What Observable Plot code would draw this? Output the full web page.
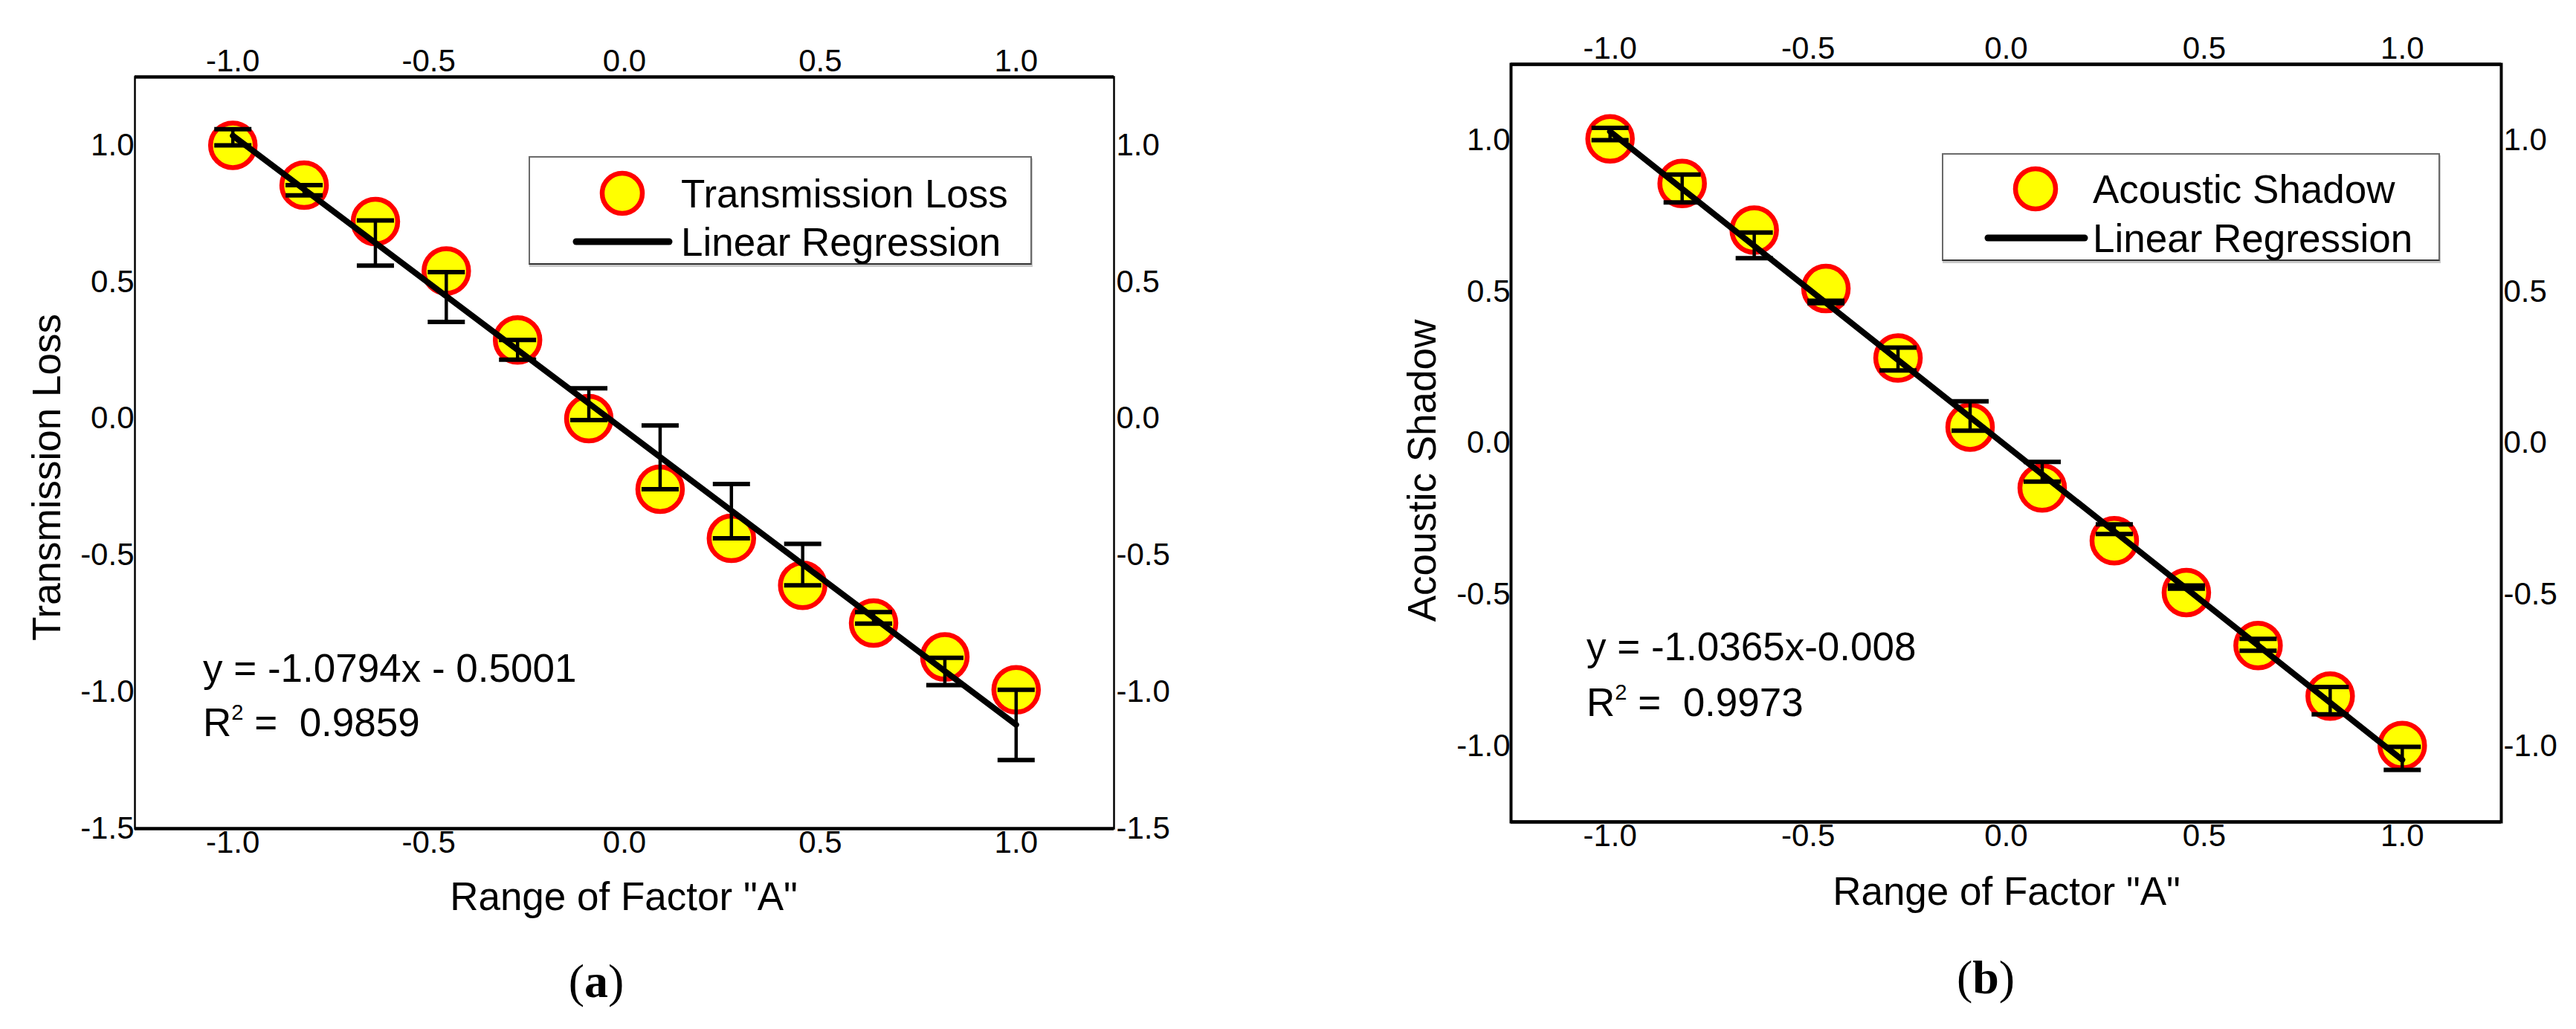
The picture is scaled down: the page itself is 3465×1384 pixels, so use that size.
<!DOCTYPE html>
<html>
<head>
<meta charset="utf-8">
<script src="https://cdn.jsdelivr.net/npm/d3@7"></script>
<script src="https://cdn.jsdelivr.net/npm/@observablehq/plot@0.6"></script>
<style>
  html, body { margin: 0; padding: 0; background: #fff; }
  #page { position: relative; width: 3465px; height: 1384px; overflow: hidden; background: #fff;
          font-family: "Liberation Sans", Arial, sans-serif; color: #000; }
  .plot { position: absolute; top: 0; }
  .lbl { position: absolute; line-height: 1; white-space: pre; font-size: 53px; }
  .legend { position: absolute; border: 2px solid #6a6a6a; border-bottom-color: #333;
            box-shadow: 1px 3px 0 #c8c8c8; background: #fff; box-sizing: border-box; }
  .cap { position: absolute; line-height: 1; font-family: "Liberation Serif", "Times New Roman", serif;
         font-size: 64px; transform: translate(-50%, -50%); white-space: pre; }
  sup { font-size: 0.55em; vertical-align: 0; position: relative; top: -0.75em; }
</style>
</head>
<body>
<div id="page"></div>
<script>
// ---------- data ----------
const xValues = [-1.0, -0.818, -0.636, -0.455, -0.273, -0.091, 0.091, 0.273, 0.455, 0.636, 0.818, 1.0];
const xTicks = [-1.0, -0.5, 0.0, 0.5, 1.0];
const xDomain = [-1.25, 1.25];

// (a) Transmission Loss
const tlValues = [1.0, 0.854, 0.721, 0.54, 0.288, 0.0, -0.258, -0.438, -0.61, -0.748, -0.872, -0.992];
const tlLow    = [1.0, 0.817, 0.56, 0.354, 0.216, -0.005, -0.258, -0.438, -0.61, -0.75, -0.975, -1.249];
const tlHigh   = [1.059, 0.854, 0.725, 0.536, 0.288, 0.111, -0.025, -0.239, -0.458, -0.708, -0.875, -0.992];
const tlLineX  = [-1.0, 1.0];
const tlLineY  = [1.035, -1.12];
const tlYDomain = [-1.5, 1.25];
const tlYTicks = [-1.5, -1.0, -0.5, 0.0, 0.5, 1.0];

// (b) Acoustic Shadow
const asValues = [1.004, 0.857, 0.703, 0.51, 0.281, 0.053, -0.148, -0.322, -0.493, -0.668, -0.835, -0.998];
const asLow    = [1.0, 0.794, 0.61, 0.462, 0.24, 0.041, -0.127, -0.30, -0.48, -0.685, -0.895, -1.078];
const asHigh   = [1.04, 0.886, 0.695, 0.47, 0.315, 0.138, -0.062, -0.268, -0.47, -0.646, -0.805, -1.002];
const asLineX  = [-1.0, 1.0];
const asLineY  = [1.028, -1.045];
const asYDomain = [-1.25, 1.25];
const asYTicks = [-1.0, -0.5, 0.0, 0.5, 1.0];

// ---------- helpers ----------
const fmt = d => d.toFixed(1);
const hline = { draw(ctx, size) { const w = Math.sqrt(size / Math.PI); ctx.moveTo(-w, 0); ctx.lineTo(w, 0); } };

function panel(o) {
  const pts = xValues.map((x, i) => ({x, y: o.ys[i], lo: o.lows[i], hi: o.highs[i]}));
  const caps = pts.flatMap(d => [{x: d.x, y: d.lo}, {x: d.x, y: d.hi}]);
  const reg = o.lineX.map((x, i) => ({x, y: o.lineY[i]}));
  return Plot.plot({
    width: o.width, height: 1384,
    marginLeft: o.ml, marginRight: o.mr, marginTop: o.mt, marginBottom: o.mb,
    x: {domain: xDomain},
    y: {domain: o.yDomain},
    style: {fontFamily: '"Liberation Sans", Arial, sans-serif', fontSize: "42px", color: "#000", background: "transparent", overflow: "visible"},
    marks: [
      Plot.frame({stroke: "#000", strokeWidth: o.sideWidth}),
      Plot.ruleY(o.yDomain, {stroke: "#000", strokeWidth: 4.5}),
      Plot.axisX({anchor: "bottom", ticks: xTicks, tickFormat: fmt, tickSize: 0, tickPadding: 3, label: null, fill: "#000"}),
      Plot.axisX({anchor: "top", ticks: xTicks, tickFormat: fmt, tickSize: 0, tickPadding: 8, label: null, fill: "#000"}),
      Plot.axisY({anchor: "left", ticks: o.yTicks, tickFormat: fmt, tickSize: 0, tickPadding: 1, label: null, fill: "#000"}),
      Plot.axisY({anchor: "right", ticks: o.yTicks, tickFormat: fmt, tickSize: 0, tickPadding: 3, label: null, fill: "#000"}),
      Plot.dot(pts, {x: "x", y: "y", r: 30, fill: "#ffff00", stroke: "#ff0000", strokeWidth: 6.5}),
      Plot.ruleX(pts, {x: "x", y1: "lo", y2: "hi", stroke: "#000", strokeWidth: 4.5}),
      Plot.dot(caps, {x: "x", y: "y", r: 25, symbol: hline, fill: "none", stroke: "#000", strokeWidth: 6}),
      Plot.line(reg, {x: "x", y: "y", stroke: "#000", strokeWidth: 8})
    ]
  });
}

const page = document.getElementById("page");
function place(node, left) { node.classList.add("plot"); node.style.left = left + "px"; page.appendChild(node); }

place(panel({width: 1700, ml: 181, mr: 202, mt: 103, mb: 270, sideWidth: 2.5,
  yDomain: tlYDomain, yTicks: tlYTicks, ys: tlValues, lows: tlLow, highs: tlHigh,
  lineX: tlLineX, lineY: tlLineY}), 0);
place(panel({width: 1765, ml: 332, mr: 101, mt: 86, mb: 279, sideWidth: 4,
  yDomain: asYDomain, yTicks: asYTicks, ys: asValues, lows: asLow, highs: asHigh,
  lineX: asLineX, lineY: asLineY}), 1700);

function text(html, x, y, anchor = "start", rotate = false) {
  const d = document.createElement("div");
  d.className = "lbl";
  d.innerHTML = html;
  d.style.left = x + "px"; d.style.top = y + "px";
  const tx = anchor === "middle" ? "-50%" : anchor === "end" ? "-100%" : "0";
  d.style.transform = `translate(${tx}, -50%)`;
  if (rotate) { d.style.transformOrigin = "0 0"; d.style.transform = "rotate(-90deg) translate(-50%, -50%)"; }
  page.appendChild(d);
  return d;
}
function caption(html, x, y) {
  const d = document.createElement("div");
  d.className = "cap"; d.innerHTML = html;
  d.style.left = x + "px"; d.style.top = y + "px";
  page.appendChild(d);
}
function legend(box, marker, label1, line, label2) {
  const b = document.createElement("div");
  b.className = "legend";
  Object.assign(b.style, {left: box[0] + "px", top: box[1] + "px", width: box[2] + "px", height: box[3] + "px"});
  page.appendChild(b);
  const ns = "http://www.w3.org/2000/svg";
  const s = document.createElementNS(ns, "svg");
  s.setAttribute("width", 3465); s.setAttribute("height", 1384);
  Object.assign(s.style, {position: "absolute", left: 0, top: 0, overflow: "visible"});
  const c = document.createElementNS(ns, "circle");
  c.setAttribute("cx", marker[0]); c.setAttribute("cy", marker[1]); c.setAttribute("r", 27);
  c.setAttribute("fill", "#ffff00"); c.setAttribute("stroke", "#ff0000"); c.setAttribute("stroke-width", 6.5);
  s.appendChild(c);
  const l = document.createElementNS(ns, "line");
  l.setAttribute("x1", line[0]); l.setAttribute("x2", line[1]); l.setAttribute("y1", line[2]); l.setAttribute("y2", line[2]);
  l.setAttribute("stroke", "#000"); l.setAttribute("stroke-width", 9); l.setAttribute("stroke-linecap", "round");
  s.appendChild(l);
  page.appendChild(s);
  text(label1[0], label1[1], label1[2]);
  text(label2[0], label2[1], label2[2]);
}

// panel (a) texts
text("Transmission Loss", 62, 642, "middle", true);
text('Range of Factor "A"', 839, 1205, "middle");
text("y = -1.0794x - 0.5001", 273, 898);
text("R<sup>2</sup> =  0.9859", 273, 971);
legend([711, 210, 677, 146], [837, 260], ["Transmission Loss", 916, 260], [775, 900, 325], ["Linear Regression", 916, 325]);
caption("(<b>a</b>)", 802, 1320);

// panel (b) texts
text("Acoustic Shadow", 1912, 633, "middle", true);
text('Range of Factor "A"', 2699, 1198, "middle");
text("y = -1.0365x-0.008", 2134, 869);
text("R<sup>2</sup> =  0.9973", 2134, 944);
legend([2612, 206, 670, 145], [2738, 254], ["Acoustic Shadow", 2815, 254], [2674, 2804, 320], ["Linear Regression", 2815, 320]);
caption("(<b>b</b>)", 2671, 1315);
</script>
</body>
</html>
